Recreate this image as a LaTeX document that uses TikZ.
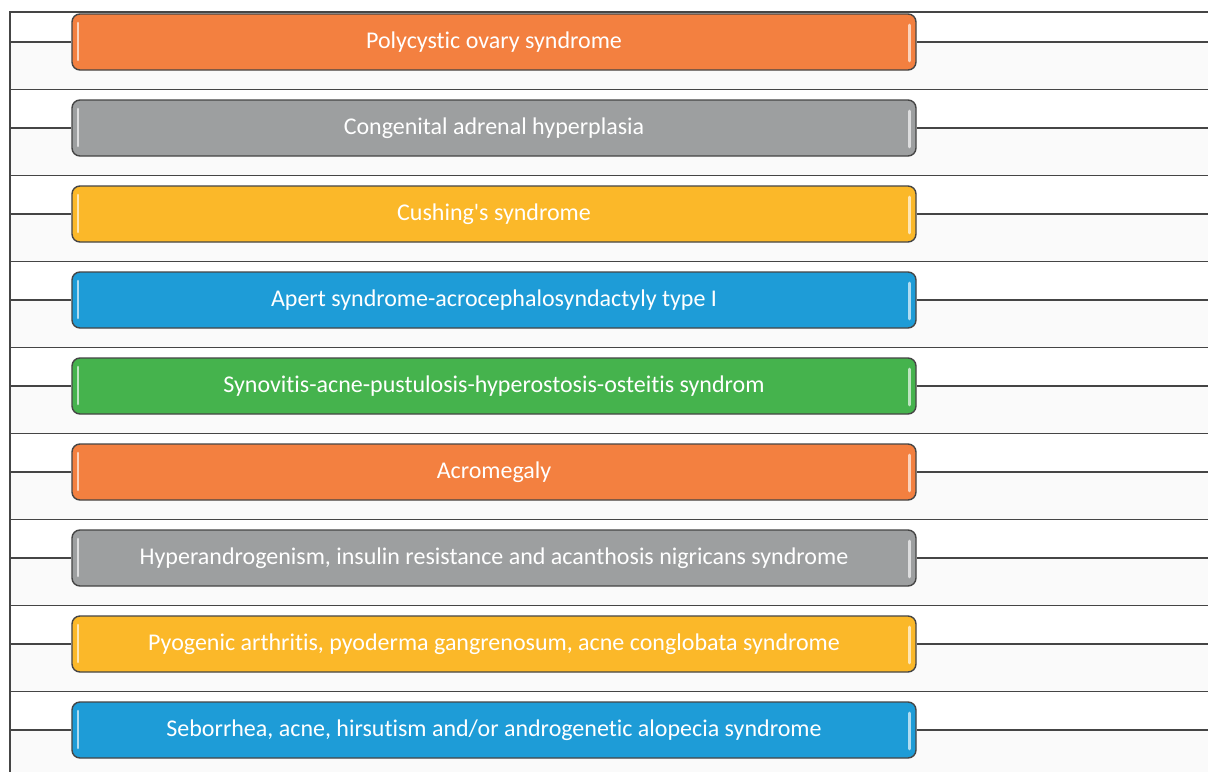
\documentclass[tikz,border=0pt]{standalone}
\usepackage{fontspec}
\setmainfont{Carlito}[Ligatures={NoCommon,NoRequired}]
\definecolor{cOrange}{HTML}{F38040}
\definecolor{cGray}{HTML}{9D9FA0}
\definecolor{cYellow}{HTML}{FBB829}
\definecolor{cBlue}{HTML}{1E9CD7}
\definecolor{cGreen}{HTML}{45B34D}
\definecolor{cLine}{HTML}{454545}
\definecolor{cBand}{HTML}{FAFAFA}
\begin{document}
\begin{tikzpicture}[x=1pt,y=-1pt,
  line/.style={draw=cLine,line width=1.5pt},
  band/.style={fill=cBand,draw=none},
  pill/.style={draw=cLine,line width=1.4pt,rounded corners=8pt,minimum width=844pt,minimum height=56pt,
    text=white,font=\fontsize{24}{26}\selectfont,inner sep=0pt},
  stripe/.style={line width=2.6pt,line cap=round}]
\useasboundingbox (0,0) rectangle (1208,772);
\fill[white] (0,0) rectangle (1208,772);
% bands
\foreach \i in {0,...,8}{
  \pgfmathsetmacro{\m}{42+86*\i}
  \pgfmathsetmacro{\b}{min(89+86*\i,772)}
  \fill[band] (11,\m) rectangle (1208,\b);
}
% top line and left spine
\coordinate (T0) at (10,12);
\coordinate (T1) at (1208,12);
\coordinate (S1) at (10,772);
\draw[line] (T1) -- (T0) -- (S1);
% bottom lines of rows
\foreach \i in {0,...,7}{
  \pgfmathsetmacro{\b}{89.5+86*\i}
  \coordinate (BL\i) at (10,\b);
  \coordinate (BR\i) at (1208,\b);
  \draw[line] (BL\i) -- (BR\i);
}
% boxes
\foreach \i/\c/\t in {
  0/cOrange/{Polycystic ovary syndrome},
  1/cGray/{Congenital adrenal hyperplasia},
  2/cYellow/{Cushing\textquotesingle s syndrome},
  3/cBlue/{Apert syndrome-acrocephalosyndactyly type I},
  4/cGreen/{Synovitis-acne-pustulosis-hyperostosis-osteitis syndrom},
  5/cOrange/{Acromegaly},
  6/cGray/{Hyperandrogenism, insulin resistance and acanthosis nigricans syndrome},
  7/cYellow/{Pyogenic arthritis, pyoderma gangrenosum, acne conglobata syndrome},
  8/cBlue/{Seborrhea, acne, hirsutism and/or androgenetic alopecia syndrome}}{
  \pgfmathsetmacro{\m}{42+86*\i}
  \node[pill,fill=\c] (b\i) at (494,\m) {\t};
  \coordinate (L\i) at (10,\m);
  \coordinate (R\i) at (1208,\m);
  \draw[line] (L\i) -- (b\i.west);
  \draw[line] (b\i.east) -- (R\i);
  \draw[stripe,draw=\c!35!white] ([xshift=6.5pt,yshift=19pt]b\i.west) -- ([xshift=6.5pt,yshift=-18pt]b\i.west);
  \draw[stripe,draw=\c!35!white] ([xshift=-7pt,yshift=17pt]b\i.east) -- ([xshift=-7pt,yshift=-19pt]b\i.east);
}
\end{tikzpicture}
\end{document}
